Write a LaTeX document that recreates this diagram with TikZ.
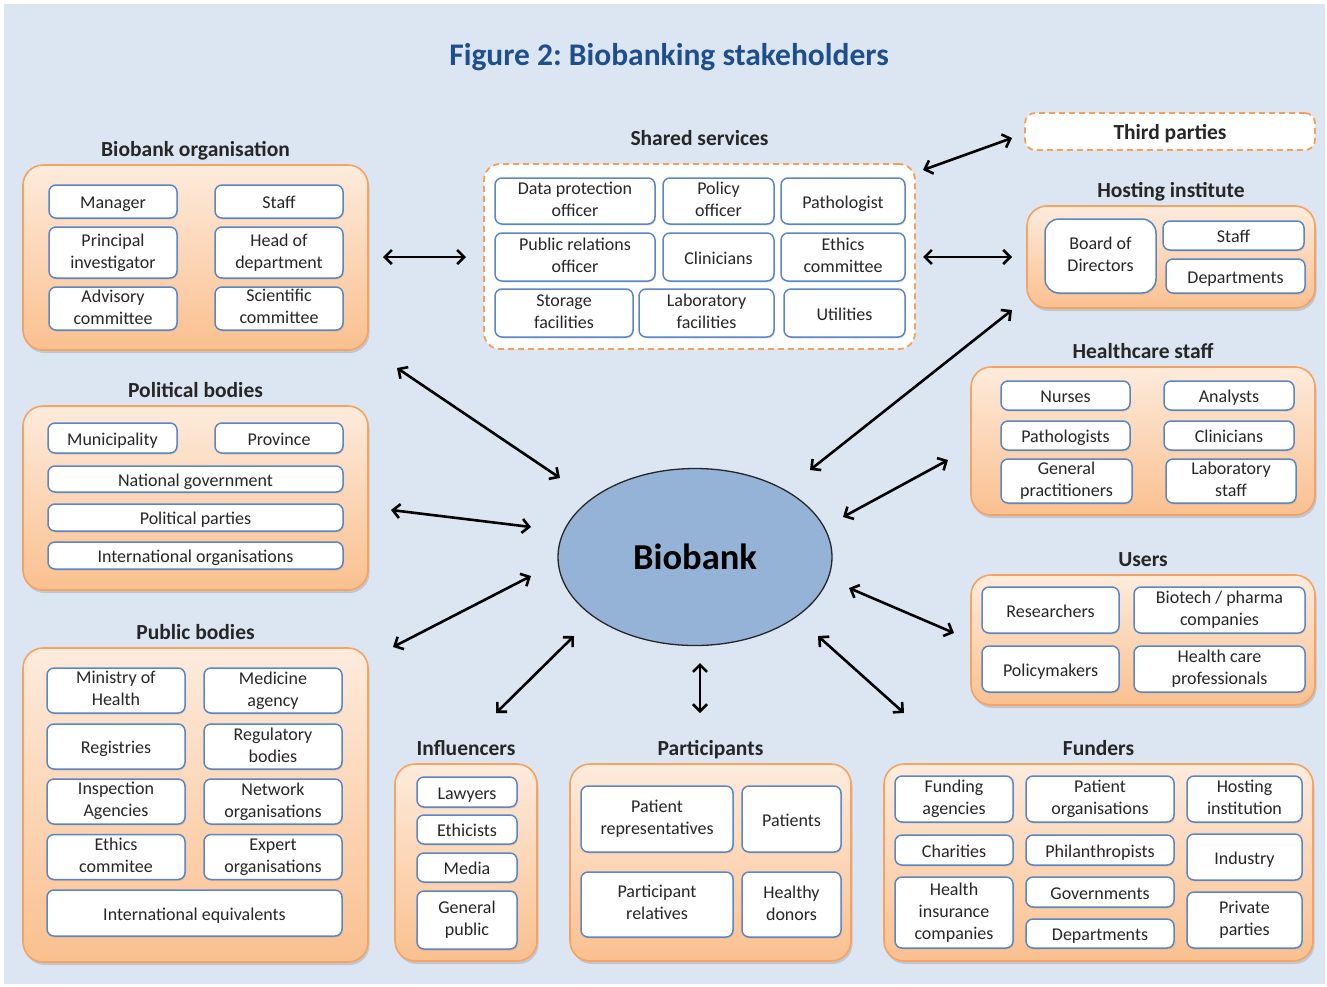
\documentclass[tikz,border=0pt]{standalone}
\usepackage{fontspec}
\setmainfont{Carlito}
\frenchspacing
\usetikzlibrary{arrows.meta,positioning,shapes.geometric,shadows}
\definecolor{bgblue}{HTML}{DCE6F2}
\definecolor{titleblue}{HTML}{1F4E8C}
\definecolor{grptop}{HTML}{FDEBDC}
\definecolor{grpbot}{HTML}{FAC08F}
\definecolor{grpline}{HTML}{F5A262}
\definecolor{memline}{HTML}{5B86C5}
\definecolor{hubfill}{HTML}{95B3D7}
\definecolor{txtdark}{HTML}{262626}
\newcommand{\linestrut}{\rule{0pt}{1em}}
\tikzset{dims/.style 2 args={minimum width=#1pt, minimum height=#2pt}, % Box size in pixels
        group/.style={ % Orange shaded panel of one stakeholder group
            draw=grpline, line width=1.6pt,
            rounded corners=20pt,
            top color=grptop, bottom color=grpbot,
            drop shadow={shadow xshift=1.5pt, shadow yshift=-3pt, opacity=0.3}},
        dashgroup/.style={ % Dashed panel for shared services and third parties
            draw=grpline!90!orange, line width=1.8pt,
            dash pattern=on 6pt off 4pt,
            rounded corners=16pt, fill=white},
        member/.style={ % White member box inside a panel
            draw=memline, line width=1.5pt,
            rounded corners=7pt, fill=white,
            drop shadow={shadow xshift=0.8pt, shadow yshift=-1.5pt, opacity=0.2},
            inner sep=0pt, align=center, text=txtdark,
            execute at begin node=\linestrut, text depth=3.5pt,
            font=\fontsize{18}{22}\selectfont},
        heading/.style={ % Bold group title
            inner sep=0pt, text height=15pt, text depth=5pt,
            text=txtdark, font=\bfseries\fontsize{21.5}{24}\selectfont},
        figtitle/.style={
            text=titleblue, font=\bfseries\fontsize{31.5}{36}\selectfont},
        hub/.style={
            ellipse, draw=black!85, line width=1.3pt, fill=hubfill,
            inner sep=0pt, font=\bfseries\fontsize{36.5}{40}\selectfont},
        link/.style={ % Two-way arrows round the biobank
            <->, >={Straight Barb[length=7pt, width=14pt]},
            line width=2.6pt, black}
        }
\begin{document}
\begin{tikzpicture}[x=1pt, y=-1pt]
    \useasboundingbox (0,0) rectangle (1327,986);
    \fill[bgblue] (4,4) rectangle (1325,984);

    \node[figtitle] (figtitle) at (669,57) {Figure 2: Biobanking stakeholders};

    % Biobank organisation
    \node[group, dims={345}{185}] (org) at (195.5,257.5) {};
    \node[heading, above=3pt of org] (orgtitle) {Biobank organisation};
    \node[member, dims={128}{33}] (manager) at (113,201.5) {Manager};
    \node[member, dims={128}{33}] (orgstaff) at (279,201.5) {Staff};
    \node[member, dims={128}{51}] (pi) at (113,252.5) {Principal\\investigator};
    \node[member, dims={128}{51}] (head) at (279,252.5) {Head of\\department};
    \node[member, dims={128}{43}] (advisory) at (113,308.5) {Advisory\\committee};
    \node[member, dims={128}{43}] (scientific) at (279,308.5) {Scientific\\committee};

    % Political bodies
    \node[group, dims={345}{184}] (political) at (195.5,498) {};
    \node[heading, above=3pt of political] (politicaltitle) {Political bodies};
    \node[member, dims={129}{30}] (municipality) at (112.5,438) {Municipality};
    \node[member, dims={128}{30}] (province) at (279,438) {Province};
    \node[member, dims={295}{26}] (national) at (195.5,479) {National government};
    \node[member, dims={295}{27}] (parties) at (195.5,517.5) {Political parties};
    \node[member, dims={295}{27}] (intorg) at (195.5,555.5) {International organisations};

    % Public bodies
    \node[group, dims={345}{314}] (public) at (195.5,805) {};
    \node[heading, above=3pt of public] (publictitle) {Public bodies};
    \node[member, dims={138}{45}] (ministry) at (116,690.5) {Ministry of\\Health};
    \node[member, dims={138}{45}] (medicine) at (273,690.5) {Medicine\\agency};
    \node[member, dims={138}{45}] (registries) at (116,746.5) {Registries};
    \node[member, dims={138}{45}] (regulatory) at (273,746.5) {Regulatory\\bodies};
    \node[member, dims={138}{45}] (inspection) at (116,801.5) {Inspection\\Agencies};
    \node[member, dims={138}{45}] (network) at (273,801.5) {Network\\organisations};
    \node[member, dims={138}{45}] (ethicspub) at (116,857) {Ethics\\commitee};
    \node[member, dims={138}{45}] (expert) at (273,857) {Expert\\organisations};
    \node[member, dims={295}{46}] (intequiv) at (194.5,913) {International equivalents};

    % Influencers
    \node[group, dims={142}{197}] (influencers) at (466,862.5) {};
    \node[heading, above=3pt of influencers] (influencerstitle) {Influencers};
    \node[member, dims={100}{30}] (lawyers) at (467,792) {Lawyers};
    \node[member, dims={100}{29}] (ethicists) at (467,829.5) {Ethicists};
    \node[member, dims={100}{29}] (media) at (467,867.5) {Media};
    \node[member, dims={100}{58}] (genpublic) at (467,920) {General\\public};

    % Participants
    \node[group, dims={281}{197}] (participants) at (710.5,862.5) {};
    \node[heading, above=3pt of participants] (participantstitle) {Participants};
    \node[member, dims={152}{66}] (patrep) at (657,819) {Patient\\representatives};
    \node[member, dims={99}{66}] (patients) at (791.5,819) {Patients};
    \node[member, dims={152}{65}] (partrel) at (657,904.5) {Participant\\relatives};
    \node[member, dims={99}{65}] (healthy) at (791.5,904.5) {Healthy\\donors};

    % Funders
    \node[group, dims={429}{197}] (funders) at (1098.5,862.5) {};
    \node[heading, above=3pt of funders] (funderstitle) {Funders};
    \node[member, dims={118}{46}] (funding) at (954,799) {Funding\\agencies};
    \node[member, dims={148}{46}] (patorg) at (1100,799) {Patient\\organisations};
    \node[member, dims={115}{46}] (hostinst) at (1244.5,799) {Hosting\\institution};
    \node[member, dims={118}{30}] (charities) at (954,850) {Charities};
    \node[member, dims={148}{30}] (philanthropists) at (1100,850) {Philanthropists};
    \node[member, dims={115}{46}] (industry) at (1244.5,857) {Industry};
    \node[member, dims={118}{71}] (insurance) at (954,912.5) {Health\\insurance\\companies};
    \node[member, dims={148}{30}] (governments) at (1100,892) {Governments};
    \node[member, dims={148}{29}] (fundept) at (1100,933.5) {Departments};
    \node[member, dims={115}{56}] (private) at (1244.5,920) {Private\\parties};

    % Healthcare staff
    \node[group, dims={344}{148}] (healthcare) at (1143,441) {};
    \node[heading, above=3pt of healthcare] (healthcaretitle) {Healthcare staff};
    \node[member, dims={129}{29}] (nurses) at (1065.5,395.5) {Nurses};
    \node[member, dims={130}{29}] (analysts) at (1229,395.5) {Analysts};
    \node[member, dims={129}{29}] (pathologists) at (1065.5,435.5) {Pathologists};
    \node[member, dims={130}{29}] (hcclinicians) at (1229,435.5) {Clinicians};
    \node[member, dims={131}{44}] (gp) at (1066.5,481) {General\\practitioners};
    \node[member, dims={130}{44}] (labstaff) at (1231,481) {Laboratory\\staff};

    % Users
    \node[group, dims={344}{130}] (users) at (1143,640) {};
    \node[heading, above=3pt of users] (userstitle) {Users};
    \node[member, dims={137}{46}] (researchers) at (1050.5,610) {Researchers};
    \node[member, dims={171}{46}] (biotech) at (1219.5,610) {Biotech / pharma\\companies};
    \node[member, dims={137}{46}] (policymakers) at (1050.5,669) {Policymakers};
    \node[member, dims={171}{46}] (hcprof) at (1219.5,669) {Health care\\professionals};

    % Shared services
    \node[dashgroup, dims={431}{185}] (shared) at (699.5,256.5) {};
    \node[heading, above=12pt of shared] (sharedtitle) {Shared services};
    \node[member, dims={160}{46}] (dpo) at (575,201) {Data protection\\officer};
    \node[member, dims={111}{46}] (policy) at (718.5,201) {Policy\\officer};
    \node[member, dims={124}{46}] (pathologist) at (843,201) {Pathologist};
    \node[member, dims={160}{48}] (pro) at (575,257) {Public relations\\officer};
    \node[member, dims={111}{48}] (clinicians) at (718.5,257) {Clinicians};
    \node[member, dims={124}{48}] (ethicscom) at (843,257) {Ethics\\committee};
    \node[member, dims={138}{48}] (storage) at (564,313) {Storage\\facilities};
    \node[member, dims={135}{48}] (labfac) at (706.5,313) {Laboratory\\facilities};
    \node[member, dims={121}{48}] (utilities) at (844.5,313) {Utilities};

    % Third parties and hosting institute
    \node[dashgroup, rounded corners=10pt, dims={290}{37}, heading, text depth=0pt] (third) at (1170,131.5) {Third parties};
    \node[group, dims={288}{102}] (hosting) at (1171,257) {};
    \node[heading, above=3pt of hosting] (hostingtitle) {Hosting institute};
    \node[member, rounded corners=14pt, dims={111}{74}] (board) at (1100.5,256) {Board of\\Directors};
    \node[member, dims={141}{29}] (hostaff) at (1233.5,235.5) {Staff};
    \node[member, dims={139}{34}] (hodept) at (1235.5,276) {Departments};

    \node[hub, dims={274}{177}] (biobank) at (695,557) {Biobank};

    % arrow ends
    \coordinate (orgA) at (397,368);      \coordinate (orgB) at (560,478);
    \coordinate (polA) at (391,510);      \coordinate (polB) at (531,527);
    \coordinate (pubA) at (393,647);      \coordinate (pubB) at (531,576);
    \coordinate (infA) at (496,713);      \coordinate (infB) at (574,636);
    \coordinate (parA) at (700,663);      \coordinate (parB) at (700,713);
    \coordinate (funA) at (818,636);      \coordinate (funB) at (904,713);
    \coordinate (useA) at (849,588);      \coordinate (useB) at (954,633);
    \coordinate (hcsA) at (843,517);      \coordinate (hcsB) at (948,460);
    \coordinate (hosA) at (810,470);      \coordinate (hosB) at (1012,310);
    \coordinate (shhA) at (923,257);      \coordinate (shhB) at (1012,257);
    \coordinate (thiA) at (923,170);      \coordinate (thiB) at (1012,138);
    \coordinate (osA) at (383,257);       \coordinate (osB) at (466,257);

    \draw[link] (orgA) -- (orgB);
    \draw[link] (polA) -- (polB);
    \draw[link] (pubA) -- (pubB);
    \draw[link] (infA) -- (infB);
    \draw[link] (parA) -- (parB);
    \draw[link] (funA) -- (funB);
    \draw[link] (useA) -- (useB);
    \draw[link] (hcsA) -- (hcsB);
    \draw[link] (hosA) -- (hosB);
    \draw[link] (shhA) -- (shhB);
    \draw[link] (thiA) -- (thiB);
    \draw[link] (osA) -- (osB);
\end{tikzpicture}
\end{document}
